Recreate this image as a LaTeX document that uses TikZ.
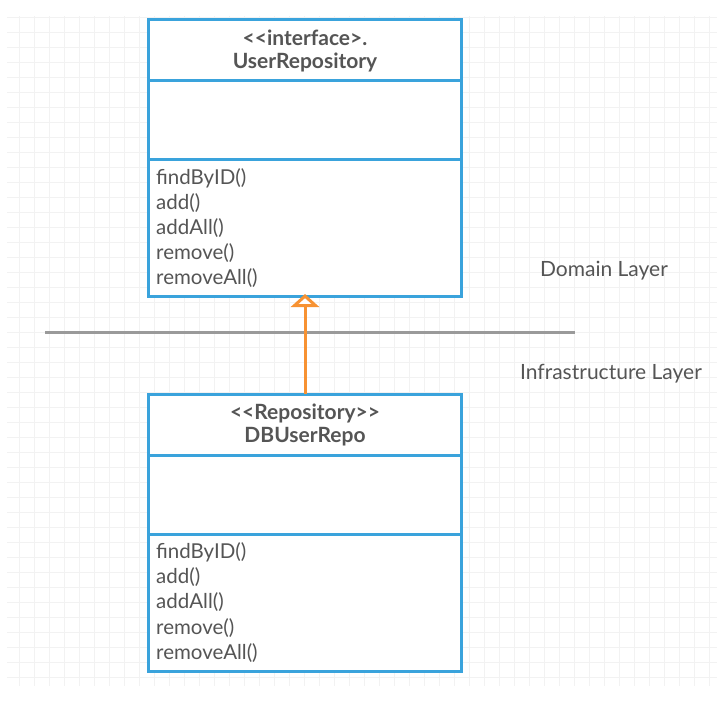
\documentclass[tikz,border=0pt]{standalone}
\usepackage{fontspec}
\setmainfont{Lato}
\usetikzlibrary{arrows.meta}
\definecolor{umlblue}{HTML}{3AA3DC}
\definecolor{txt}{HTML}{555555}
\definecolor{arrorange}{HTML}{F79232}
\definecolor{sepgray}{HTML}{9A9A9A}
\definecolor{gridc}{HTML}{F2F2F2}
\begin{document}
\begin{tikzpicture}[x=1pt,y=-1pt,
  classbox/.style={draw=umlblue, line width=3pt, fill=white, minimum width=313pt, inner sep=0pt, outer sep=0pt, anchor=north west},
  divider/.style={draw=umlblue, line width=3pt},
  hdr/.style={text=txt, font=\fontsize{21}{23}\selectfont\bfseries, inner sep=0pt},
  meth/.style={text=txt, font=\fontsize{20.5}{23}\selectfont, inner sep=0pt, anchor=west},
  layer/.style={text=txt, font=\fontsize{21}{23}\selectfont, inner sep=0pt},
  gridline/.style={draw=gridc, line width=1pt}]
\useasboundingbox (0,0) rectangle (726,704);
\fill[white] (0,0) rectangle (726,704);
% faint background grid
\foreach \x in {19,34,...,709} \draw[gridline] (\x,16) -- (\x,686);
\foreach \y in {17,32,...,686} \draw[gridline] (7,\y) -- (717,\y);
% separator between layers
\coordinate (sepL) at (45,332);
\coordinate (sepR) at (575,332);
\draw[sepgray, line width=3pt] (sepL) -- (sepR);
\node[layer] (dom) at (604,271) {Domain Layer};
\node[layer] (inf) at (611,374) {Infrastructure Layer};
% interface class
\node[classbox, minimum height=277pt] (iface) at (148,19) {};
\draw[divider] (iface.west |- 0,80) -- (iface.east |- 0,80);
\draw[divider] (iface.west |- 0,159) -- (iface.east |- 0,159);
\node[hdr] (ifs) at (305,38) {{<}{<}interface{>}.};
\node[hdr] (ifn) at (305,62) {UserRepository};
\foreach \t/\yy [count=\i] in {findByID()/178, add()/203, addAll()/228, remove()/253, removeAll()/278}
  \node[meth] (ma\i) at (156,\yy) {\t};
% repository class
\node[classbox, minimum height=277pt] (repo) at (148,394) {};
\draw[divider] (repo.west |- 0,455) -- (repo.east |- 0,455);
\draw[divider] (repo.west |- 0,534) -- (repo.east |- 0,534);
\node[hdr] (rps) at (305,413) {{<}{<}Repository{>}{>}};
\node[hdr] (rpn) at (305,437) {DBUserRepo};
\foreach \t/\yy [count=\i] in {findByID()/552, add()/577, addAll()/602, remove()/628, removeAll()/653}
  \node[meth] (mb\i) at (156,\yy) {\t};
% realization arrow
\coordinate (tip) at (305,294);
\draw[arrorange, line width=3pt, -{Triangle[open, length=13pt, width=28pt, fill=white]}] (repo.north -| tip) -- (tip);
\end{tikzpicture}
\end{document}
